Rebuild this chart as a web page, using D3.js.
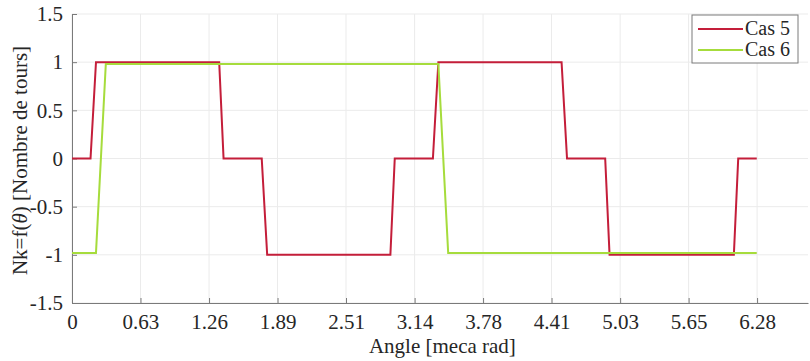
<!DOCTYPE html>
<html>
<head>
<meta charset="utf-8">
<script src="https://cdn.jsdelivr.net/npm/d3@7"></script>
<style>
  body { margin: 0; background: #fff; }
  svg text { font-family: "Liberation Serif", "DejaVu Serif", serif !important; fill: #262626; }
</style>
</head>
<body>
<div id="chart"></div>
<script>
// angle (meca rad) and turns for each case
var theta5 = [0, 0.17, 0.22, 1.35, 1.39, 1.74, 1.79, 2.92, 2.96, 3.31, 3.36, 4.49, 4.54, 4.89, 4.93, 6.07, 6.11, 6.28];
var nk5 = [0, 0, 1, 1, 0, 0, -1, -1, 0, 0, 1, 1, 0, 0, -1, -1, 0, 0];
var theta6 = [0, 0.22, 0.31, 3.36, 3.45, 6.28];
var nk6 = [-0.98, -0.98, 0.98, 0.98, -0.98, -0.98];

var xTicks = [0, 0.628, 1.257, 1.885, 2.513, 3.142, 3.770, 4.398, 5.027, 5.655, 6.283];
var xTickLabels = ["0", "0.63", "1.26", "1.89", "2.51", "3.14", "3.78", "4.41", "5.03", "5.65", "6.28"];
var yTicks = [-1.5, -1, -0.5, 0, 0.5, 1, 1.5];
var yTickLabels = ["-1.5", "-1", "-0.5", "0", "0.5", "1", "1.5"];

var seriesNames = ["Cas 5", "Cas 6"];
var seriesColors = ["#c41e3a", "#a6dc3c"];

var width = 810, height = 361;
var margin = { top: 14, right: 2, bottom: 58, left: 72 };
var w = width - margin.left - margin.right,
    h = height - margin.top - margin.bottom;

var svg = d3.select("#chart").append("svg")
    .attr("width", width)
    .attr("height", height)
    .attr("font-family", "Liberation Serif");
var g = svg.append("g")
    .attr("transform", "translate(" + margin.left + "," + margin.top + ")");

var x = d3.scaleLinear().domain([0, 6.75]).range([0, w]);
var y = d3.scaleLinear().domain([-1.5, 1.5]).range([h, 0]);

// grid
g.append("g").selectAll("line").data(xTicks).enter().append("line")
    .attr("x1", d => x(d)).attr("x2", d => x(d))
    .attr("y1", 0).attr("y2", h)
    .attr("stroke", "#ebebeb").attr("stroke-width", 1);
g.append("g").selectAll("line").data(yTicks).enter().append("line")
    .attr("x1", 0).attr("x2", w)
    .attr("y1", d => y(d)).attr("y2", d => y(d))
    .attr("stroke", "#ebebeb").attr("stroke-width", 1);

// axes, ticks pointing inside
var xAxis = d3.axisBottom(x).tickValues(xTicks)
    .tickFormat((d, i) => xTickLabels[i]).tickSizeInner(-5).tickSizeOuter(0).tickPadding(11);
var yAxis = d3.axisLeft(y).tickValues(yTicks)
    .tickFormat((d, i) => yTickLabels[i]).tickSizeInner(-5).tickSizeOuter(0).tickPadding(9);

var gx = g.append("g")
    .attr("transform", "translate(0," + h + ")")
    .call(xAxis);
var gy = g.append("g").call(yAxis);
[gx, gy].forEach(a => {
    a.attr("font-family", "Liberation Serif").attr("font-size", 21);
    a.select(".domain").attr("stroke", "#7a7a7a");
    a.selectAll(".tick line").attr("stroke", "#7a7a7a");
    a.selectAll(".tick text").attr("fill", "#262626");
});

// lines
var line = d3.line().x(d => x(d[0])).y(d => y(d[1]));
var data5 = theta5.map((t, i) => [t, nk5[i]]);
var data6 = theta6.map((t, i) => [t, nk6[i]]);
[data5, data6].forEach((d, i) => {
    g.append("path").datum(d)
        .attr("d", line)
        .attr("fill", "none")
        .attr("stroke", seriesColors[i])
        .attr("stroke-width", 2)
        .attr("stroke-linejoin", "miter");
});

// axis titles
svg.append("text")
    .attr("x", margin.left + x(3.14) + 28)
    .attr("y", 353)
    .attr("text-anchor", "middle")
    .attr("font-size", 21)
    .text("Angle [meca rad]");

var yl = svg.append("text")
    .attr("transform", "translate(27," + (margin.top + h / 2 + 2) + ") rotate(-90)")
    .attr("text-anchor", "middle")
    .attr("font-size", 21);
yl.append("tspan").text("Nk=f(");
yl.append("tspan").attr("font-style", "italic").text("θ");
yl.append("tspan").text(") [Nombre de tours]");

// legend
var lg = svg.append("g").attr("transform", "translate(692,15)");
lg.append("rect")
    .attr("width", 106).attr("height", 48)
    .attr("fill", "#fff").attr("stroke", "#7a7a7a").attr("stroke-width", 1);
seriesNames.forEach((n, i) => {
    var yy = 14 + i * 21;
    lg.append("line")
        .attr("x1", 6).attr("x2", 51).attr("y1", yy).attr("y2", yy)
        .attr("stroke", seriesColors[i]).attr("stroke-width", 2);
    lg.append("text")
        .attr("x", 53).attr("y", yy + 6)
        .attr("font-size", 20)
        .text(n);
});
</script>
</body>
</html>
